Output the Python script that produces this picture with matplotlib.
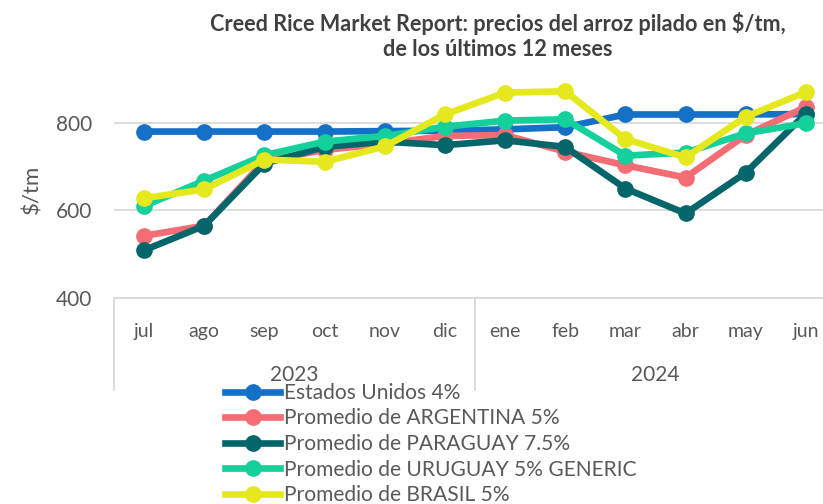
import matplotlib
matplotlib.use("Agg")
import matplotlib.pyplot as plt
from matplotlib.lines import Line2D

# Data
months = ["jul", "ago", "sep", "oct", "nov", "dic", "ene", "feb", "mar", "abr", "may", "jun"]
years = ["2023", "2024"]
months_per_year = [6, 6]

estados_unidos = [780, 780, 780, 780, 781, 782, 785, 790, 819, 819, 819, 820]
argentina = [542, 565, 713, 738, 752, 770, 772, 734, 703, 675, 772, 836]
paraguay = [509, 565, 707, 745, 757, 749, 760, 745, 650, 593, 686, 821]
uruguay = [610, 668, 726, 757, 770, 791, 805, 808, 725, 732, 776, 799]
brasil = [628, 648, 716, 711, 746, 819, 869, 872, 763, 721, 814, 870]

series = [
    ("Estados Unidos 4%", estados_unidos, "#1570C8"),
    ("Promedio de ARGENTINA 5%", argentina, "#F46D75"),
    ("Promedio de PARAGUAY 7.5%", paraguay, "#04666A"),
    ("Promedio de URUGUAY 5% GENERIC", uruguay, "#14D09A"),
    ("Promedio de BRASIL 5%", brasil, "#E6E81E"),
]

plt.rcParams["font.family"] = ["Lato", "DejaVu Sans"]
text_gray = "#595959"
grid_gray = "#D9D9D9"
FS = 14

W, H = 823, 504
fig = plt.figure(figsize=(W / 100, H / 100), dpi=100)

# axes placed in pixel terms (right edge runs past the figure, as in the reference)
left_px, right_px, top_px, bottom_px = 114, 836, 79, 298
ax_h = bottom_px - top_px
ax = fig.add_axes([left_px / W, 1 - bottom_px / H,
                   (right_px - left_px) / W, ax_h / H])

x = list(range(len(months)))
for name, vals, col in series:
    ax.plot(x, vals, color=col, lw=4.8, marker="o", ms=11, label=name,
            solid_joinstyle="round", clip_on=False)

ax.set_xlim(-0.5, len(months) - 0.5)
ax.set_ylim(400, 900)
ax.set_yticks([400, 600, 800])
ax.yaxis.grid(True, color=grid_gray, lw=1.3)
ax.set_axisbelow(True)
for s in ["top", "right", "left"]:
    ax.spines[s].set_visible(False)
ax.spines["bottom"].set_color(grid_gray)
ax.spines["bottom"].set_linewidth(1.3)
ax.tick_params(axis="y", length=0, pad=16, labelsize=FS + 1, labelcolor=text_gray)
ax.set_xticks(x)
ax.set_xticklabels(months)
ax.tick_params(axis="x", length=0, pad=18, labelsize=FS, labelcolor=text_gray)
ax.set_ylabel("$/tm", fontsize=FS + 2, color=text_gray)
ax.yaxis.set_label_coords(-(left_px - 42) / (right_px - left_px), (bottom_px - 189) / ax_h)

# multi-level category axis: separators and year labels
sep_bottom = -(390 - bottom_px) / ax_h
trans = ax.get_xaxis_transform()
pos = -0.5
bounds = [pos]
for n in months_per_year:
    pos += n
    bounds.append(pos)
for b in bounds:
    ax.add_line(Line2D([b, b], [0, sep_bottom], transform=trans, color=grid_gray,
                       lw=1.3, clip_on=False))
year_y = -(375 - bottom_px) / ax_h
for i, yr in enumerate(years):
    mid = (bounds[i] + bounds[i + 1]) / 2
    ax.text(mid, year_y, yr, transform=trans, ha="center", va="center",
            fontsize=FS + 1, color=text_gray)

title = fig.text(498 / W, 1 - 36 / H,
                 "Creed Rice Market Report: precios del arroz pilado en $/tm,\nde los últimos 12 meses",
                 ha="center", va="center", fontsize=FS, fontweight="bold", color="#404040",
                 linespacing=1.25)

# fit title width to the reference (~579 px for the first line)
fig.canvas.draw()
r = fig.canvas.get_renderer()
tw = title.get_window_extent(r).width
title.set_fontsize(FS * 579 / tw)

# legend: fit the widest label to ~355 px, rows 25.5 px apart, first row centred at y=393
def make_legend(fs, spacing, top):
    return fig.legend(loc="upper left", bbox_to_anchor=(225 / W, 1 - top / H),
                      frameon=False, fontsize=fs, handlelength=55 / (fs * 100 / 72),
                      handletextpad=4 / (fs * 100 / 72), labelspacing=spacing,
                      borderpad=0, borderaxespad=0)

leg = make_legend(FS, 0.3, 380)
fig.canvas.draw()
widest = max(t.get_window_extent(r).width for t in leg.get_texts())
leg_fs = FS * 355 / widest
leg.remove()
leg = make_legend(leg_fs, 0.3, 380)
fig.canvas.draw()
th = leg.get_texts()[0].get_window_extent(r).height
leg.remove()
leg = make_legend(leg_fs, (25.5 - th) / (leg_fs * 100 / 72), 393 - th / 2)
for t in leg.get_texts():
    t.set_color(text_gray)

fig.savefig("out.png", dpi=100)
